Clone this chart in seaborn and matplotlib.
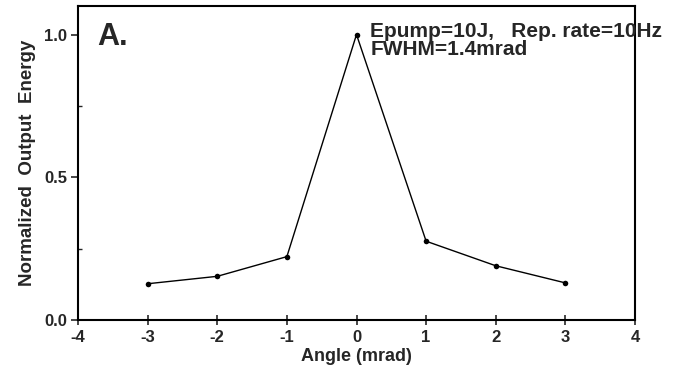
import matplotlib
matplotlib.use("Agg")
import matplotlib.pyplot as plt
import seaborn as sns
import pandas as pd
from matplotlib.ticker import MultipleLocator

# data
angle = [-3, -2, -1, 0, 1, 2, 3]
energy = [0.127, 0.153, 0.222, 1.0, 0.276, 0.19, 0.13]

df = pd.DataFrame({"Angle": angle, "Energy": energy})

sns.set_style("ticks")
plt.rcParams['font.family'] = ['Liberation Sans', 'DejaVu Sans']
plt.rcParams['axes.unicode_minus'] = False

fig = plt.figure(figsize=(6.77, 3.70), dpi=100)
ax = fig.add_axes([78 / 677, 1 - 320 / 370, (635 - 78) / 677, (320 - 6) / 370])

sns.lineplot(data=df, x="Angle", y="Energy", ax=ax, color="black",
             linewidth=1.0, marker="o", markersize=4, markeredgewidth=0)

ax.set_xlim(-4, 4)
ax.set_ylim(0, 1.1)
ax.set_xticks(range(-4, 5))
ax.set_yticks([0.0, 0.5, 1.0])
ax.yaxis.set_minor_locator(MultipleLocator(0.25))
ax.set_yticklabels(["0.0", "0.5", "1.0"])

for s in ax.spines.values():
    s.set_linewidth(1.5)
    s.set_color("black")

ax.tick_params(axis="x", direction="inout", length=7, width=1.2, labelsize=12, pad=4)
ax.tick_params(axis="y", which="major", direction="out", length=5, width=1.2, labelsize=12, pad=3)
ax.tick_params(axis="y", which="minor", direction="in", length=3, width=1)
for lab in ax.get_xticklabels() + ax.get_yticklabels():
    lab.set_fontweight("bold")

ax.set_xlabel("Angle (mrad)", fontsize=13, fontweight="bold", labelpad=2)
ax.set_ylabel("Normalized  Output  Energy", fontsize=13.5, fontweight="bold", labelpad=6)

ax.text(0.034, 0.95, "A.", transform=ax.transAxes, fontsize=22,
        fontweight="bold", va="top", ha="left")
ax.text(0.2, 1.045, "Epump=10J,   Rep. rate=10Hz\nFWHM=1.4mrad",
        transform=ax.transData, fontsize=15, fontweight="bold",
        va="top", ha="left", linespacing=0.95, clip_on=False)

fig.savefig("out.png", dpi=100)
